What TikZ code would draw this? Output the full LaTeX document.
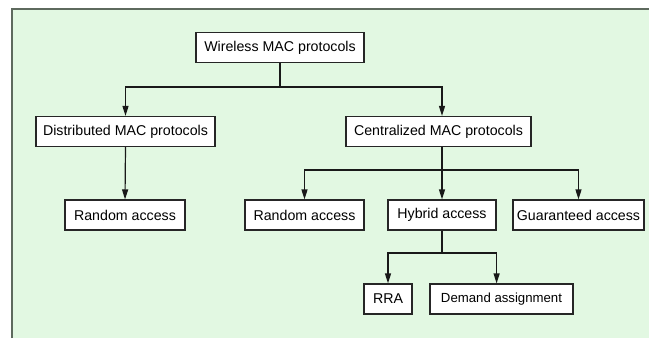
\documentclass[tikz,border=0pt]{standalone}
\usepackage{fontspec}
\setmainfont{Liberation Sans}
\usetikzlibrary{arrows.meta}
\definecolor{panel}{HTML}{E2F8E2}
\definecolor{rim}{HTML}{5E6A5E}
\begin{document}
\begin{tikzpicture}[x=1pt,y=-1pt,
  box/.style={draw=black!85, fill=white, line width=1.2pt, minimum height=30pt,
    inner sep=0pt, font=\fontsize{14.2}{16}\selectfont},
  smallbox/.style={box, font=\fontsize{13.2}{15}\selectfont},
  link/.style={line width=1.2pt, draw=black!90},
  arr/.style={link, -{Triangle[length=10pt,width=6pt]}}]
\useasboundingbox (0,0) rectangle (649,338);
% panel with a rule on its left and top edges
\fill[white] (0,0) rectangle (649,338);
\fill[panel] (12,9) rectangle (649,338);
\draw[rim, line width=2pt] (12,338) -- (12,9) -- (649,9);

% boxes
\node[box, minimum width=168pt] (wmac) at (280,47.5) {Wireless MAC protocols};
\node[box, minimum width=179pt] (dist) at (125.5,131.5) {Distributed MAC protocols};
\node[box, minimum width=185pt] (cent) at (438.5,131.5) {Centralized MAC protocols};
\node[box, minimum width=120pt] (ra1) at (125,215) {Random access};
\node[box, minimum width=119pt] (ra2) at (304.5,215) {Random access};
\node[box, minimum width=108pt] (hyb) at (442,215) {Hybrid access};
\node[box, minimum width=131pt] (guar) at (578.5,215) {Guaranteed access};
\node[box, minimum width=48pt] (rra) at (388,299) {RRA};
\node[smallbox, minimum width=143pt] (dem) at (501.5,299) {Demand assignment};

% bus points
\coordinate (bus1) at (280,87);
\coordinate (bus2) at (442,170);
\coordinate (bus3) at (442,253);

% connectors
\draw[link] (wmac.south) -- (bus1);
\draw[arr] (bus1) -| (dist.north);
\draw[arr] (bus1) -| (cent.north -| hyb.north);
\draw[arr] (dist.south) -- (ra1.north);
\draw[link] (cent.south -| hyb.north) -- (bus2);
\draw[arr] (bus2) -| (ra2.north);
\draw[arr] (bus2) -- (hyb.north);
\draw[arr] (bus2) -| (guar.north);
\draw[link] (hyb.south) -- (bus3);
\draw[arr] (bus3) -| (rra.north);
\draw[arr] (bus3) -| (dem.north -| hyb.east);
\end{tikzpicture}
\end{document}
